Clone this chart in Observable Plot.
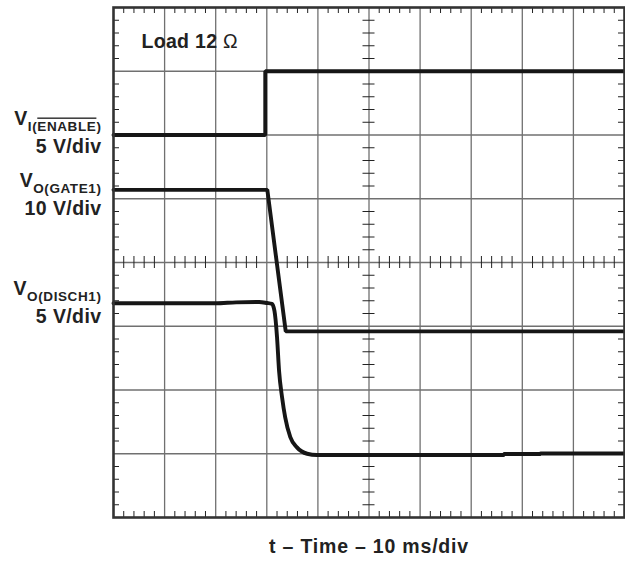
<!DOCTYPE html>
<html>
<head>
<meta charset="utf-8">
<script src="https://cdn.jsdelivr.net/npm/d3@7"></script>
<script src="https://cdn.jsdelivr.net/npm/@observablehq/plot@0.6"></script>
<style>
  html, body { margin: 0; padding: 0; background: #fff; }
  #chart svg { display: block; }
</style>
</head>
<body>
<div id="chart"></div>
<script>
// ---- Data (in scope divisions: x 0..10, y 0..8 from bottom) ----
const enableT = [0, 2.97, 2.97, 10];
const enableV = [6.0, 6.0, 7.0, 7.0];

const gateT = [0, 3.01, 3.37, 10];
const gateV = [5.14, 5.14, 2.92, 2.92];

const dischT = [0, 2.0, 2.4, 2.85, 3.0, 3.1, 3.15, 3.2, 3.24, 3.3, 3.36, 3.46, 3.59, 3.79, 3.98, 7.63, 7.65, 8.34, 8.36, 10];
const dischV = [3.36, 3.36, 3.375, 3.38, 3.365, 3.35, 3.24, 2.83, 2.30, 1.88, 1.57, 1.26, 1.10, 1.00, 0.98, 0.98, 0.995, 0.995, 1.005, 1.005];

const xDivisions = 10;
const yDivisions = 8;
const minorStep = 0.2;
const centerX = 5;
const centerY = 4;

const labels = [
  {v: "V", sub: ["I(", "ENABLE", ")"], over: 1, scale: "5 V/div"},
  {v: "V", sub: ["O(GATE1)"], over: -1, scale: "10 V/div"},
  {v: "V", sub: ["O(DISCH1)"], over: -1, scale: "5 V/div"}
];
const loadLabel = ["Load 12 ", "\u03A9"];
const xLabel = "t \u2013 Time \u2013 10 ms/div";

// ---- Build tables ----
const toRows = (t, v) => t.map((d, i) => ({t: d, v: v[i]}));
const enableRows = toRows(enableT, enableV);
const gateRows = toRows(gateT, gateV);
const dischRows = toRows(dischT, dischV);

const majorX = d3.range(1, xDivisions);
const majorY = d3.range(1, yDivisions);
const isMinor = d => Math.abs(d - Math.round(d)) > 1e-6;
const minorX = d3.range(0, xDivisions + 1e-9, minorStep).map(d => +d.toFixed(2)).filter(isMinor);
const minorY = d3.range(0, yDivisions + 1e-9, minorStep).map(d => +d.toFixed(2)).filter(isMinor);

const gridColor = "#707070";
const tickColor = "#222";
const traceColor = "#161616";
const tickLen = 6;

const plot = Plot.plot({
  width: 625,
  height: 561,
  marginLeft: 113,
  marginRight: 1,
  marginTop: 7,
  marginBottom: 44,
  x: {domain: [0, xDivisions], axis: null},
  y: {domain: [0, yDivisions], axis: null},
  marks: [
    // grid
    Plot.ruleX(majorX, {x: d => d, stroke: gridColor, strokeWidth: 1.3}),
    Plot.ruleY(majorY, {y: d => d, stroke: gridColor, strokeWidth: 1.3}),
    // minor ticks on center crosshair
    Plot.ruleY(minorY, {y: d => d, x1: () => centerX, x2: () => centerX, insetLeft: -tickLen, insetRight: -tickLen, stroke: tickColor, strokeWidth: 1}),
    Plot.ruleX(minorX, {x: d => d, y1: () => centerY, y2: () => centerY, insetTop: -tickLen, insetBottom: -tickLen, stroke: tickColor, strokeWidth: 1}),
    // minor ticks on edges (inward)
    Plot.ruleY(minorY, {y: d => d, x1: () => 0, x2: () => 0, insetRight: -tickLen, stroke: tickColor, strokeWidth: 1}),
    Plot.ruleY(minorY, {y: d => d, x1: () => xDivisions, x2: () => xDivisions, insetLeft: -tickLen, stroke: tickColor, strokeWidth: 1}),
    Plot.ruleX(minorX, {x: d => d, y1: () => yDivisions, y2: () => yDivisions, insetBottom: -tickLen, stroke: tickColor, strokeWidth: 1}),
    Plot.ruleX(minorX, {x: d => d, y1: () => 0, y2: () => 0, insetTop: -tickLen, stroke: tickColor, strokeWidth: 1}),
    // traces
    Plot.line(enableRows, {x: "t", y: "v", stroke: traceColor, strokeWidth: 3.9, strokeLinejoin: "miter"}),
    Plot.line(gateRows, {x: "t", y: "v", stroke: traceColor, strokeWidth: 3.9, strokeLinejoin: "miter"}),
    Plot.line(dischRows, {x: "t", y: "v", stroke: traceColor, strokeWidth: 3.9, curve: "monotone-x"}),
    Plot.frame({stroke: "#333", strokeWidth: 2.6})
  ]
});

document.getElementById("chart").appendChild(plot);

// ---- Text annotations ----
const svg = d3.select(plot);
const font = "'Liberation Sans', Arial, Helvetica, sans-serif";
const labelRight = 101.5;
const labelBaselines = [125, 187, 295];

labels.forEach((lab, i) => {
  const base = labelBaselines[i];
  const t = svg.append("text")
    .attr("x", labelRight).attr("y", base)
    .attr("text-anchor", "end")
    .attr("font-family", font)
    .attr("font-weight", "bold")
    .attr("fill", "#222")
    .style("letter-spacing", "0.5px");
  t.append("tspan").attr("font-size", 19.5).text(lab.v);
  lab.sub.forEach((s, j) => {
    const ts = t.append("tspan").attr("font-size", 13.5).style("letter-spacing", "0.6px").text(s);
    if (j === 0) ts.attr("dy", 5.5);
    if (j === lab.over) ts.style("text-decoration", "overline");
  });
  svg.append("text")
    .attr("x", labelRight).attr("y", base + 27.5)
    .attr("text-anchor", "end")
    .attr("font-family", font)
    .attr("font-weight", "bold")
    .attr("font-size", 19.5)
    .attr("fill", "#222")
    .style("letter-spacing", "0.4px")
    .text(lab.scale);
});

const load = svg.append("text")
  .attr("x", 141.5).attr("y", 48.3)
  .attr("text-anchor", "start")
  .attr("font-family", font)
  .attr("font-weight", "bold")
  .attr("font-size", 19.5)
  .attr("fill", "#222")
  .style("letter-spacing", "0.3px");
load.append("tspan").text(loadLabel[0]);
load.append("tspan").attr("font-weight", "normal").text(loadLabel[1]);

svg.append("text")
  .attr("x", 369).attr("y", 553.3)
  .attr("text-anchor", "middle")
  .attr("font-family", font)
  .attr("font-weight", "bold")
  .attr("font-size", 19.5)
  .attr("fill", "#222")
  .style("letter-spacing", "0.8px")
  .text(xLabel);
</script>
</body>
</html>
